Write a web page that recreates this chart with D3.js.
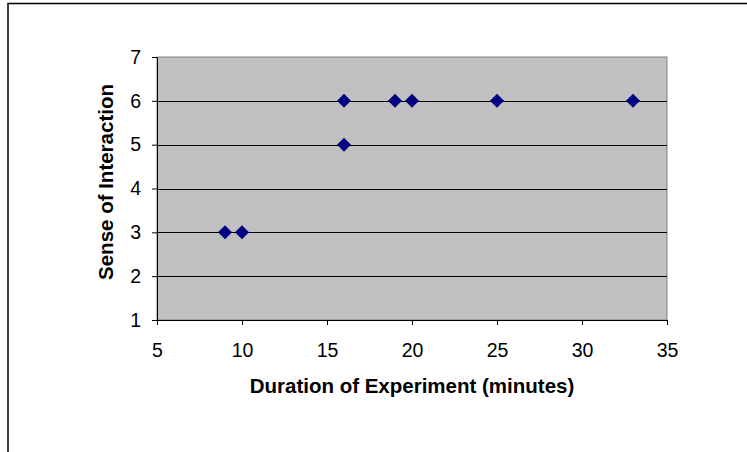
<!DOCTYPE html>
<html><head><meta charset="utf-8">
<script src="https://cdn.jsdelivr.net/npm/d3@7"></script>
<style>html,body{margin:0;padding:0;background:#fff;}svg{display:block;}</style>
</head><body>
<svg id="chart" width="747" height="452"></svg>
<script>
const durations = [9, 10, 16, 16, 19, 20, 25, 33];
const interaction = [3, 3, 5, 6, 6, 6, 6, 6];
const xTicks = [5, 10, 15, 20, 25, 30, 35];
const yTicks = [1, 2, 3, 4, 5, 6, 7];
const xTitle = "Duration of Experiment (minutes)";
const yTitle = "Sense of Interaction";

const svg = d3.select("#chart");
const font = "Liberation Sans, Arial, sans-serif";
const L = 157, R = 667, T = 57, B = 320;

// outer chart border
svg.append("rect").attr("x", 8).attr("y", 3.5).attr("width", 760).attr("height", 470)
  .attr("fill", "#fff").attr("stroke", "#000").attr("stroke-width", 1.5);

const x = d3.scaleLinear().domain([5, 35]).range([L, R]);
const y = d3.scaleLinear().domain([1, 7]).range([B, T]);

svg.append("rect").attr("x", L).attr("y", T).attr("width", R - L).attr("height", B - T)
  .attr("fill", "#c0c0c0").attr("stroke", "#808080").attr("stroke-width", 1);

// gridlines
svg.append("g").selectAll("line").data(yTicks.filter(d => d > 1 && d < 7)).join("line")
  .attr("x1", L).attr("x2", R).attr("y1", d => Math.round(y(d)) + 0.5).attr("y2", d => Math.round(y(d)) + 0.5)
  .attr("stroke", "#000").attr("stroke-width", 1);

// axes
const fmt = d3.format("d");
const xAxis = svg.append("g").attr("transform", `translate(0,${B})`)
  .call(d3.axisBottom(x).tickValues(xTicks).tickFormat(fmt).tickSize(5).tickPadding(18).tickSizeOuter(0));
const yAxis = svg.append("g").attr("transform", `translate(${L},0)`)
  .call(d3.axisLeft(y).tickValues(yTicks).tickFormat(fmt).tickSize(5).tickPadding(11).tickSizeOuter(0));
[xAxis, yAxis].forEach(g => {
  g.attr("font-size", 19.5).attr("font-family", font);
  g.select(".domain").attr("stroke", "#000").attr("stroke-width", 1);
  g.selectAll(".tick line").attr("stroke", "#000");
  g.selectAll("text").attr("fill", "#000");
});

// markers
const diamond = d3.symbol().type(d3.symbolDiamond2).size(125);
svg.append("g").selectAll("path").data(durations.map((d, i) => [d, interaction[i]])).join("path")
  .attr("d", diamond)
  .attr("transform", d => `translate(${x(d[0])},${y(d[1])})`)
  .attr("fill", "#000080");

// titles
svg.append("text").attr("x", (L + R) / 2).attr("y", 393).attr("text-anchor", "middle")
  .attr("font-family", font).attr("font-size", 20.5).attr("font-weight", "bold").text(xTitle);
svg.append("text").attr("transform", `translate(113,182) rotate(-90)`).attr("text-anchor", "middle")
  .attr("font-family", font).attr("font-size", 20.5).attr("font-weight", "bold").text(yTitle);
</script>
</body></html>
